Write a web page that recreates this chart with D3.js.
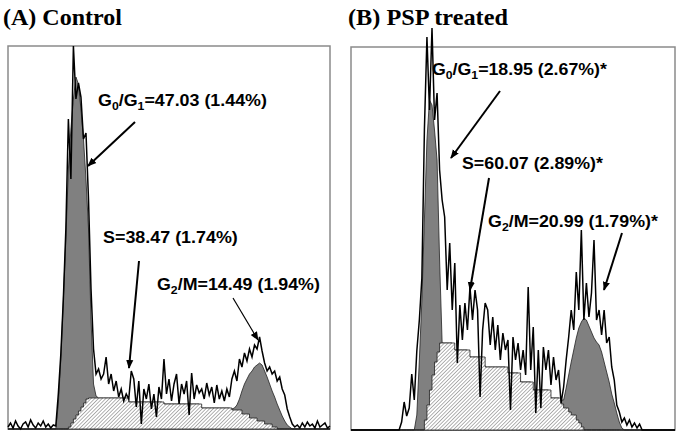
<!DOCTYPE html>
<html>
<head>
<meta charset="utf-8">
<script src="https://cdn.jsdelivr.net/npm/d3@7"></script>
<style>body{margin:0;background:#fff}</style>
</head>
<body>
<div id="chart"></div>
<script>
// DNA content histograms, 129 channels per panel (counts)
var rawA = [2,6,1,8,3,0,5,7,2,9,4,1,6,3,8,2,5,1,4,
  3,35,75,130,200,310,250,383,330,346,332,290,296,230,140,80,55,60,50,55,72,45,55,38,48,32,40,28,35,30,
  58,50,22,48,5,40,30,45,20,35,12,42,30,70,35,50,28,45,55,25,45,35,48,14,56,30,44,36,40,30,46,34,42,26,
  44,30,38,28,40,32,50,58,48,70,62,76,68,80,72,84,80,92,78,66,58,62,55,58,48,52,40,34,20,12,5,2,
  4,1,6,2,7,3,5,1,8,2,4,6,1,3];
var modelA = [0,0,0,0,0,0,0,0,0,0,0,0,0,0,0,0,0,0,0,0,
  25,70,130,190,260,300,330,352,345,320,290,250,200,110,45,33,
  31,31,31,31,31,31,31,31,31,31,31,31,
  27,27,27,27,27,27,27,27,27,27,27,27,27,27,
  25,25,25,25,25,25,25,25,25,25,25,25,25,25,25,
  21,21,21,21,21,21,21,21,21,21,21,21,
  20,21,24,30,38,45,50,55,58,62,64,66,64,58,52,45,38,32,25,19,13,8,4,2,0,
  0,0,0,0,0,0,0,0,0,0,0,0,0,0,0];
var sA = [0,0,0,0,0,0,0,0,0,0,0,0,0,0,0,0,0,0,0,0,0,0,0,0,
  2,6,10,14,18,22,26,30,
  31,31,31,31,31,31,31,31,31,31,31,31,31,31,31,31,
  27,27,27,27,27,27,27,27,27,27,27,27,27,27,
  25,25,25,25,25,25,25,25,25,25,25,25,25,25,25,
  21,21,21,21,21,21,21,21,21,21,21,21,
  19,19,19,19,15,15,15,11,11,11,8,8,8,5,5,5,2,2,
  0,0,0,0,0,0,0,0,0,0,0,0,0,0,0,0,0,0,0,0,0,0];

var rawB = [0,0,0,0,0,0,0,0,0,0,0,0,0,0,0,0,0,0,0,0,
  8,28,14,22,56,30,79,110,152,300,393,320,402,310,337,260,230,213,140,187,120,167,67,125,90,127,100,143,110,140,
  120,33,100,127,120,85,113,80,105,70,97,80,90,20,93,70,87,60,80,55,143,60,103,17,80,22,83,60,80,45,
  73,50,60,27,43,70,93,120,100,158,120,200,110,147,113,137,190,110,120,95,120,87,93,63,50,25,18,8,12,5,
  10,3,7,2,6,
  0,0,0,0,0,0,0,0,0,0,0,0,0,0];
var modelB = [0,0,0,0,0,0,0,0,0,0,0,0,0,0,0,0,0,0,0,0,0,0,0,0,0,0,
  15,70,130,210,290,330,325,300,270,170,
  87,87,87,87,87,
  80,80,80,80,80,80,
  73,73,73,73,73,73,
  63,63,63,63,63,63,63,63,63,
  57,57,57,57,57,
  48,48,48,48,48,
  40,40,40,40,40,40,40,
  32,32,32,32,
  30,
  30,42,55,68,80,92,102,108,112,110,104,98,92,88,85,78,68,58,48,36,27,17,8,2,
  0,0,0,0,0,0,0,0,0,0,0,0,0,0,0,0,0,0,0,0,0];
var sB = [0,0,0,0,0,0,0,0,0,0,0,0,0,0,0,0,0,0,0,0,0,0,0,0,0,0,0,0,0,
  10,25,40,55,68,78,
  87,87,87,87,87,87,
  80,80,80,80,80,80,
  73,73,73,73,73,73,
  63,63,63,63,63,63,63,63,63,
  57,57,57,57,57,
  48,48,48,48,48,
  40,40,40,40,40,40,40,
  32,32,32,32,
  26,22,22,18,15,15,10,7,3,
  0,0,0,0,0,0,0,0,0,0,0,0,0,0,0,0,0,0,0,0,0,0,0,0,0,0,0,0,0,0,0,0,0,0,0,0,0];

var titles = ['(A) Control', '(B) PSP treated'];
var labelsA = [
  [['G'], ['0', 'sub'], ['/G'], ['1', 'sub'], ['=47.03 (1.44%)']],
  [['S=38.47 (1.74%)']],
  [['G'], ['2', 'sub'], ['/M=14.49 (1.94%)']]
];
var labelsB = [
  [['G'], ['0', 'sub'], ['/G'], ['1', 'sub'], ['=18.95 (2.67%)*']],
  [['S=60.07 (2.89%)*']],
  [['G'], ['2', 'sub'], ['/M=20.99 (1.79%)*']]
];

var W = 685, H = 434;
var svg = d3.select('#chart').append('svg').attr('width', W).attr('height', H);
var defs = svg.append('defs');

var pat = defs.append('pattern').attr('id', 'hatch')
  .attr('patternUnits', 'userSpaceOnUse')
  .attr('width', 2.6).attr('height', 2.6)
  .attr('patternTransform', 'rotate(45)');
pat.append('rect').attr('width', 2.6).attr('height', 2.6).attr('fill', '#fff');
pat.append('line').attr('x1', 0).attr('y1', 0).attr('x2', 0).attr('y2', 2.6)
  .attr('stroke', '#666').attr('stroke-width', 1);

defs.append('marker').attr('id', 'head')
  .attr('markerUnits', 'userSpaceOnUse')
  .attr('viewBox', '0 0 10 10')
  .attr('refX', 9).attr('refY', 5)
  .attr('markerWidth', 9).attr('markerHeight', 9)
  .attr('orient', 'auto')
  .append('path').attr('d', 'M0,1 L10,5 L0,9 Z').attr('fill', '#000');

var panels = [
  { raw: rawA, model: modelA, s: sA, left: 8, right: 330, top: 46, bottom: 429,
    title: titles[0], tx: 3, tw: 119, labels: labelsA,
    pos: [[98, 106, 169], [103, 243, 135], [157, 290, 163]],
    arrows: [[135, 122, 88, 166, 2], [139, 261, 129, 368, 2], [233, 298, 258, 340, 1.2]] },
  { raw: rawB, model: modelB, s: sB, left: 351, right: 675, top: 47, bottom: 430,
    title: titles[1], tx: 348, tw: 160, labels: labelsB,
    pos: [[432, 75, 175], [462, 169, 141], [488, 227, 170]],
    arrows: [[500, 91, 451, 158, 2], [489, 178, 470, 290, 2], [622, 233, 604, 290, 2]] }
];

function fitText(t, x, y, w) {
  var bw = t.node().getComputedTextLength();
  var k = w / bw;
  t.attr('transform', 'translate(' + x + ',' + y + ') scale(' + k + ',1) translate(' + (-x) + ',' + (-y) + ')');
}

panels.forEach(function(p) {
  var x = d3.scaleLinear().domain([0, 128]).range([p.left, p.right]);
  var y = d3.scaleLinear().domain([0, 383]).range([p.bottom, p.top]);
  var g = svg.append('g');

  g.append('rect').attr('x', p.left).attr('y', p.top)
    .attr('width', p.right - p.left).attr('height', p.bottom - p.top)
    .attr('fill', '#fff').attr('stroke', '#8a8a8a').attr('stroke-width', 1.5);

  var area = d3.area().x(function(d, i) { return x(i); }).y0(y(0)).y1(function(d) { return y(d); });
  var line = d3.line().x(function(d, i) { return x(i); }).y(function(d) { return y(d); });

  // G0/G1 + G2/M model (gray), stacked on S
  g.append('path').datum(p.model).attr('d', area)
    .attr('fill', '#808080').attr('stroke', '#222').attr('stroke-width', 0.8);

  // S phase (hatched)
  g.append('path').datum(p.s).attr('d', area.curve(d3.curveStepAfter))
    .attr('fill', 'url(#hatch)').attr('stroke', '#222').attr('stroke-width', 0.8);

  // raw histogram
  g.append('path').datum(p.raw).attr('d', line)
    .attr('fill', 'none').attr('stroke', '#000').attr('stroke-width', 1.5)
    .attr('stroke-linejoin', 'miter');

  // title
  var tt = g.append('text').attr('x', p.tx).attr('y', 25)
    .attr('font-family', 'Liberation Serif, Times New Roman, serif')
    .attr('font-weight', 'bold').attr('font-size', 24).attr('fill', '#000')
    .text(p.title);
  fitText(tt, p.tx, 25, p.tw);

  // labels
  p.labels.forEach(function(parts, j) {
    var lx = p.pos[j][0], ly = p.pos[j][1];
    var t = g.append('text').attr('x', lx).attr('y', ly)
      .attr('font-family', 'Liberation Sans, Arial, sans-serif')
      .attr('font-weight', 'bold').attr('font-size', 16).attr('fill', '#000');
    var prevSub = false;
    parts.forEach(function(pt) {
      var ts = t.append('tspan').text(pt[0]);
      if (pt[1] === 'sub') { ts.attr('font-size', 11).attr('dy', 4); prevSub = true; }
      else if (prevSub) { ts.attr('dy', -4); prevSub = false; }
    });
    fitText(t, lx, ly, p.pos[j][2]);
  });

  // arrows
  p.arrows.forEach(function(a) {
    g.append('line').attr('x1', a[0]).attr('y1', a[1]).attr('x2', a[2]).attr('y2', a[3])
      .attr('stroke', '#000').attr('stroke-width', a[4])
      .attr('marker-end', 'url(#head)');
  });
});
</script>
</body>
</html>
